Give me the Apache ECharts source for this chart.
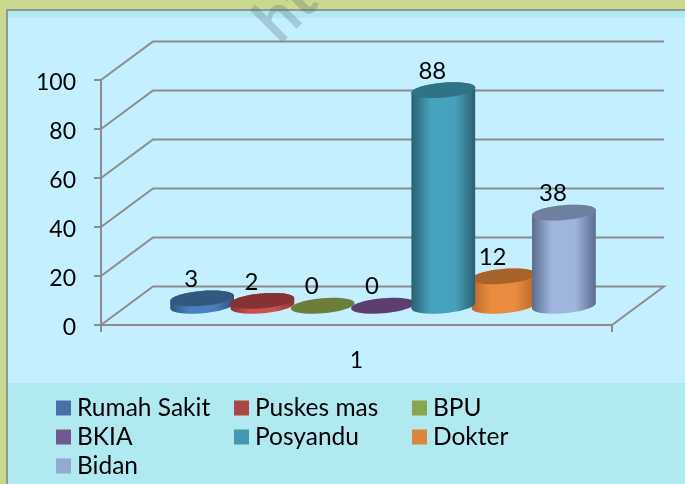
<!DOCTYPE html>
<html><head><meta charset="utf-8">
<style>html,body{margin:0;padding:0;background:#c9d98f}#c{width:685px;height:484px}</style>
<script src="https://cdn.jsdelivr.net/npm/echarts@6/dist/echarts.min.js"></script>
</head><body><div id="c"></div>
<script>
const categories = ['1'];
const seriesNames = ['Rumah Sakit','Puskes mas','BPU','BKIA','Posyandu','Dokter','Bidan'];
const seriesValues = [3,2,0,0,88,12,38];
const yTicks = [0,20,40,60,80,100];
const swatchColors = ['#4672a8','#aa4644','#89a54e','#71588f','#4198af','#db843d','#93a9cf'];
const sideEdge = ['#2f5481','#8a3230','#5f7433','#4f3a68','#2a6070','#b8692c','#5b6c8d'];
const sideMid = ['#4c7fbd','#c9524f','#93ad55','#7f63a0','#46a2bc','#ea8c40','#9fb5de'];
const topColor = ['#33587f','#843232','#6b7f3a','#5c3f6e','#2f7486','#a8632b','#6f7f9f'];
const FONT = 'Lato, Carlito, sans-serif';
const DX = 52, DY = -38.5;
const STEP = 60.3, RX = 32, RY = 7.5, TILT = -5 * Math.PI / 180;

function ell(cx, cy, t) {
  const x = RX * Math.cos(t), y = RY * Math.sin(t);
  return [cx + x * Math.cos(TILT) - y * Math.sin(TILT), cy + x * Math.sin(TILT) + y * Math.cos(TILT)];
}
function arc(cx, cy, a, b) {
  const pts = [];
  for (let i = 0; i <= 40; i++) pts.push(ell(cx, cy, a + (b - a) * i / 40));
  return pts;
}
function cylinder(si) {
  return function (params, api) {
    const v = api.value(1);
    const base = api.coord([0, 0]);
    const top = api.coord([0, v]);
    const off = si - 3;
    const cx = base[0] + DX / 2 + off * STEP + 0.5;
    const by = base[1] + DY / 2, ty = top[1] + DY / 2;
    const children = [];
    if (v > 0) {
      children.push({
        type: 'polygon',
        shape: { points: arc(cx, by, 0, Math.PI).concat(arc(cx, ty, Math.PI, 2 * Math.PI)) },
        style: { fill: new echarts.graphic.LinearGradient(0, 0, 1, 0, [
          { offset: 0, color: sideEdge[si] },
          { offset: 0.3, color: sideMid[si] }, { offset: 0.68, color: sideMid[si] },
          { offset: 1, color: sideEdge[si] }]) }
      });
    }
    children.push({ type: 'polygon', shape: { points: arc(cx, ty, 0, 2 * Math.PI) }, style: { fill: topColor[si] } });
    children.push({ type: 'text', style: { text: String(v), x: cx - 11, y: ty - 19, align: 'center', verticalAlign: 'middle', font: '24px ' + FONT, fill: '#000' } });
    return { type: 'group', children };
  };
}
function wall(params, api) {
  const v = api.value(1);
  const cs = params.coordSys;
  const y = api.coord([0, v])[1];
  const x0 = cs.x, x1 = cs.x + cs.width;
  const pts = v === 0
    ? [[x0, y], [x0 + DX, y + DY], [x1 + DX, y + DY], [x1, y]]
    : [[x0, y], [x0 + DX, y + DY], [x1 + DX, y + DY]];
  return { type: 'polyline', shape: { points: pts }, style: { stroke: '#8c8c8c', lineWidth: 2, fill: null } };
}
const mkLegend = (names, left) => ({
  data: names, left, top: 395, orient: 'vertical', icon: 'rect',
  itemWidth: 15, itemHeight: 15, itemGap: 3, padding: 0,
  textStyle: { fontFamily: FONT, fontSize: 24.5, color: '#000', lineHeight: 26, padding: [0, 0, 0, 1] }, selectedMode: false
});
const chart = echarts.init(document.getElementById('c'), null, { renderer: 'canvas' });
chart.setOption({
  animation: false,
  backgroundColor: '#c9d98f',
  grid: { left: 101, right: 73, top: 80, bottom: 159 },
  xAxis: { type: 'category', data: categories,
    axisLine: { lineStyle: { color: '#8c8c8c', width: 2 } },
    axisTick: { show: true, length: 7, lineStyle: { color: '#8c8c8c', width: 2 } },
    axisLabel: { fontFamily: FONT, fontSize: 23, color: '#000', margin: 24 } },
  yAxis: { type: 'value', min: 0, max: 100, interval: 20,
    axisLine: { show: true, lineStyle: { color: '#8c8c8c', width: 2 } },
    axisTick: { show: true, length: 7, lineStyle: { color: '#8c8c8c', width: 2 } },
    splitLine: { show: false },
    axisLabel: { fontFamily: FONT, fontSize: 23, color: '#000', margin: 25, verticalAlign: 'top', lineHeight: 5 } },
  legend: [
    mkLegend([seriesNames[0], seriesNames[3], seriesNames[6]], 56),
    mkLegend([seriesNames[1], seriesNames[4]], 234),
    mkLegend([seriesNames[2], seriesNames[5]], 412)
  ],
  graphic: { elements: [
    { type: 'rect', z: -10, shape: { x: 6, y: 9, width: 679, height: 475 }, style: { fill: '#8f979a' } },
    { type: 'rect', z: -9, shape: { x: 8, y: 11, width: 677, height: 473 }, style: { fill: '#b1e9f1' } },
    { type: 'rect', z: -8, shape: { x: 8, y: 18, width: 677, height: 365 }, style: { fill: '#c3efff' } },
    { type: 'text', z: -7, x: 286, y: 11, rotation: Math.PI / 4, style: { text: 'ht', font: 'bold 62px ' + FONT, fill: 'rgba(70,90,100,0.25)', align: 'center', verticalAlign: 'middle' } }
  ] },
  series: [
    { type: 'custom', name: 'walls', renderItem: wall, z: 1, silent: true, clip: false,
      data: yTicks.map(t => [0, t]), encode: { x: 0, y: 1 } }
  ].concat(seriesNames.map((name, i) => ({
    type: 'custom', name, z: 3 + (i === 5 ? 5 : i === 4 ? 6 : i === 6 ? 7 : i), renderItem: cylinder(i), clip: false, silent: true,
    itemStyle: { color: swatchColors[i] },
    data: [[0, seriesValues[i]]], encode: { x: 0, y: 1 }
  })))
});
</script></body></html>
